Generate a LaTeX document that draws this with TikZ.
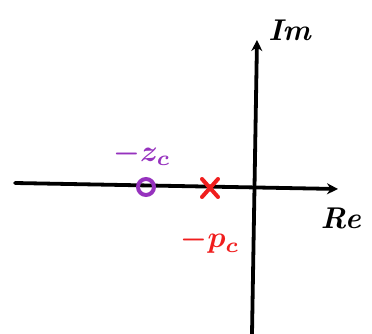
\documentclass[tikz,border=0pt]{standalone}
\usetikzlibrary{arrows.meta}
\definecolor{zpurple}{RGB}{150,50,190}
\definecolor{pred}{RGB}{240,30,30}
\newcommand{\biglbl}[1]{\scalebox{3}{\boldmath$#1$}}
\begin{document}
\begin{tikzpicture}[x=1pt,y=-1pt,
  axis/.style={line width=3.8pt,-{Stealth[length=11pt,width=11pt]},line cap=round},
  lbl/.style={inner sep=0pt},
  ]
\useasboundingbox (0,0) rectangle (372,334);
\coordinate (reL) at (15,183);
\coordinate (reR) at (338,189);
\coordinate (imB) at (252,334);
\coordinate (imT) at (257,40);
\draw[axis] (reL) -- (reR);
\draw[axis] (imB) -- (imT);
\node[lbl] (im) at (291,30) {\biglbl{\mathit{Im}}};
\node[lbl] (re) at (342,218) {\biglbl{\mathit{Re}}};
% zero
\node[draw=zpurple,line width=4pt,circle,minimum size=16pt,inner sep=0pt] (zero) at (146,187) {};
\node[lbl,text=zpurple] (zl) at (142,154) {\biglbl{-z_c}};
% pole
\node (pole) at (210,188) {};
\draw[pred,line width=4pt,line cap=round] (202,179) -- (218,197) (218,179) -- (202,197);
\node[lbl,text=pred] (pl) at (210,241) {\biglbl{-p_c}};
\end{tikzpicture}
\end{document}
